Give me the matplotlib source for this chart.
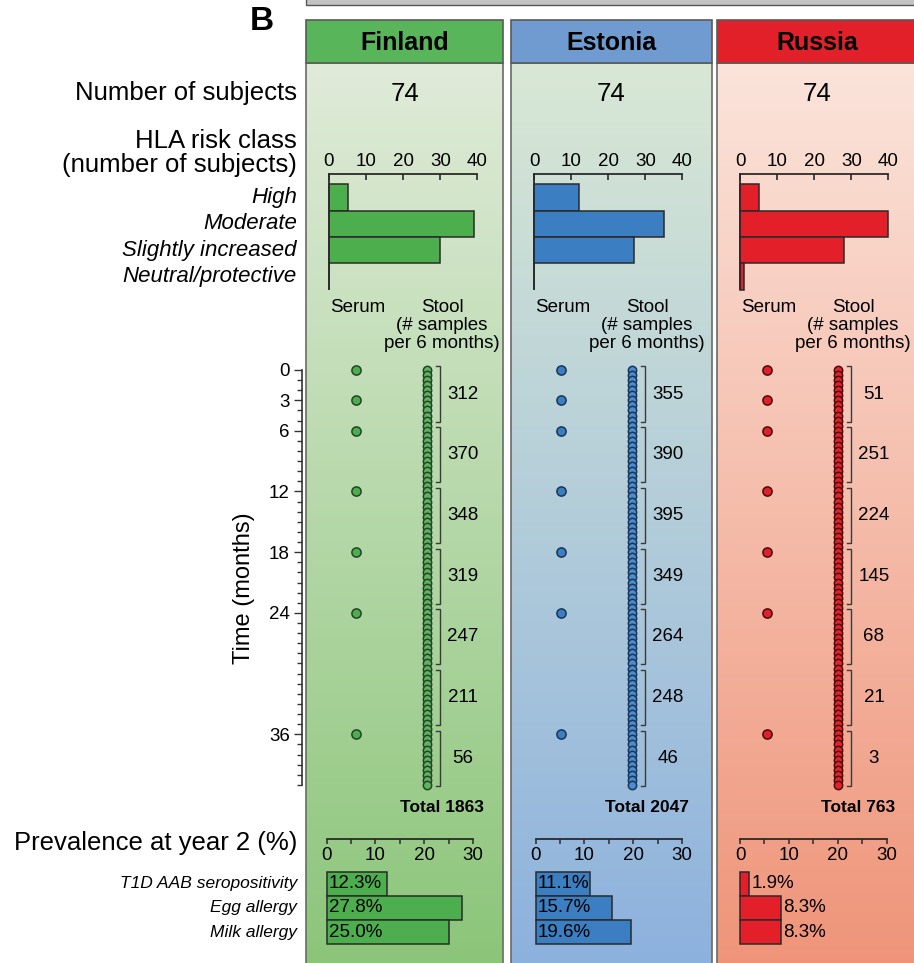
import numpy as np
import matplotlib
matplotlib.use("Agg")
import matplotlib.pyplot as plt
from matplotlib.patches import Rectangle
from matplotlib.colors import to_rgb
from matplotlib.transforms import blended_transform_factory
from matplotlib.ticker import FixedLocator

plt.rcParams['font.family'] = ['Liberation Sans', 'DejaVu Sans']

# ---------------- data ----------------
countries = ["Finland", "Estonia", "Russia"]
n_subjects = [74, 74, 74]

hla_classes = ["High", "Moderate", "Slightly increased", "Neutral/protective"]
hla_finland = [5, 39, 30, 0]
hla_estonia = [12, 35, 27, 0]
hla_russia = [5, 40, 28, 1]
hla_ticks = [0, 10, 20, 30, 40]

serum_months = [0, 3, 6, 12, 18, 24, 36]
stool_months = [0, 0.5, 1, 1.5, 2, 2.5, 3, 3.5, 4, 4.5, 5, 5.5,
                6, 6.5, 7, 7.5, 8, 8.5, 9, 9.5, 10, 10.5, 11, 11.5,
                12, 12.5, 13, 13.5, 14, 14.5, 15, 15.5, 16, 16.5, 17, 17.5,
                18, 18.5, 19, 19.5, 20, 20.5, 21, 21.5, 22, 22.5, 23, 23.5,
                24, 24.5, 25, 25.5, 26, 26.5, 27, 27.5, 28, 28.5, 29, 29.5,
                30, 30.5, 31, 31.5, 32, 32.5, 33, 33.5, 34, 34.5, 35, 35.5,
                36, 36.5, 37, 37.5, 38, 38.5, 39, 39.5, 40, 40.5, 41]
time_ticks = [0, 3, 6, 12, 18, 24, 36]
time_minor = list(range(0, 42))
window_start = [0, 6, 12, 18, 24, 30, 36]
window_end = [5.5, 11.5, 17.5, 23.5, 29.5, 35.5, 41]
stool_finland = [312, 370, 348, 319, 247, 211, 56]
stool_estonia = [355, 390, 395, 349, 264, 248, 46]
stool_russia = [51, 251, 224, 145, 68, 21, 3]

prev_labels = ["T1D AAB seropositivity", "Egg allergy", "Milk allergy"]
prev_finland = [12.3, 27.8, 25.0]
prev_estonia = [11.1, 15.7, 19.6]
prev_russia = [1.9, 8.3, 8.3]
prev_major = [0, 10, 20, 30]
prev_minor = [5, 15, 25]

hla_values = [hla_finland, hla_estonia, hla_russia]
stool_counts = [stool_finland, stool_estonia, stool_russia]
prev_values = [prev_finland, prev_estonia, prev_russia]

# ---------------- style ----------------
header_colors = ['#59b55a', '#6f9bd0', '#e2202a']
grad_top = ['#e0ebd9', '#d9e8d5', '#fbe4db']
grad_bot = ['#8bc579', '#8cb1de', '#ef9479']
bar_colors = ['#4cae4c', '#3b7ec1', '#e3202a']
dot_fill = ['#5cb45c', '#4a8cd0', '#e0242c']
dot_edge = ['#26432a', '#1a3556', '#4a0c0e']
edge_dark = '#2a2a2a'

W, H = 914, 963
fig = plt.figure(figsize=(W / 100, H / 100), dpi=100)

bg = fig.add_axes([0, 0, 1, 1], zorder=-10)
bg.set_xlim(0, W)
bg.set_ylim(H, 0)
bg.axis('off')


def px_axes(x0, y0, x1, y1):
    ax = fig.add_axes([x0 / W, 1 - y1 / H, (x1 - x0) / W, (y1 - y0) / H])
    ax.patch.set_alpha(0)
    return ax


panel_x = [(306, 503), (511, 712), (717, 918)]
header_top, header_bot, panel_bot = 20, 63, 970

# strip of the figure above
bg.add_patch(Rectangle((306, -6), 612, 11, fc='#c3c3c3', ec='#555555', lw=1.0))
bg.text(262, 21, "B", fontsize=24, fontweight='bold', ha='center', va='center')

# panels: gradient body and coloured header
for i, (x0, x1) in enumerate(panel_x):
    t = np.linspace(0, 1, 256)[:, None, None]
    grad = (1 - t) * np.array(to_rgb(grad_top[i])) + t * np.array(to_rgb(grad_bot[i]))
    bg.imshow(grad, extent=(x0, x1, panel_bot, header_bot), origin='upper',
              aspect='auto', interpolation='bilinear', zorder=0)
    bg.add_patch(Rectangle((x0, header_bot), x1 - x0, panel_bot - header_bot,
                           fc='none', ec='#6a6a6a', lw=1.2, zorder=2))
    bg.add_patch(Rectangle((x0, header_top), x1 - x0, header_bot - header_top,
                           fc=header_colors[i], ec='#5a5a5a', lw=1.2, zorder=2))
    bg.text((x0 + x1) / 2, (header_top + header_bot) / 2 + 1, countries[i],
            fontsize=18, fontweight='bold', ha='center', va='center', zorder=3)
    bg.text((x0 + x1) / 2, 94, str(n_subjects[i]), fontsize=18.5,
            ha='center', va='center', zorder=3)

bg.set_xlim(0, W)
bg.set_ylim(H, 0)

label_x = 297
bg.text(label_x, 93, "Number of subjects", fontsize=18.5, ha='right', va='center')
bg.text(label_x, 141, "HLA risk class", fontsize=18.5, ha='right', va='center')
bg.text(label_x, 165, "(number of subjects)", fontsize=18.5, ha='right', va='center')
bg.text(label_x, 843, "Prevalence at year 2 (%)", fontsize=18.5, ha='right', va='center')
bg.text(244, 588, "Time (months)", fontsize=17, rotation=90, ha='center', va='center')

# ---------------- HLA risk class bars ----------------
hla_top, hla_bottom = 174.5, 289
hla_c0, hla_step = 197.5, 26.3
for i, (x0, x1) in enumerate(panel_x):
    ax = px_axes(x0 + 23, hla_top, x0 + 23 + 148.4, hla_bottom)
    ax.barh(range(len(hla_classes)), hla_values[i], height=1.0,
            color=bar_colors[i], edgecolor=edge_dark, linewidth=1.1, clip_on=False)
    ax.set_xlim(0, 40)
    ax.set_ylim((hla_bottom - hla_c0) / hla_step, (hla_top - hla_c0) / hla_step)
    for s in ['right', 'bottom']:
        ax.spines[s].set_visible(False)
    for s in ['top', 'left']:
        ax.spines[s].set_linewidth(1.3)
        ax.spines[s].set_color('#2a2a2a')
    ax.xaxis.set_ticks_position('top')
    ax.set_xticks(hla_ticks)
    ax.tick_params(axis='x', direction='in', length=4.5, width=1.2, pad=3,
                   labelsize=13.5, colors='#2a2a2a', labelcolor='black')
    ax.set_yticks([])
    if i == 0:
        tr = blended_transform_factory(bg.transData, ax.transData)
        for k, name in enumerate(hla_classes):
            ax.text(label_x, k, name, transform=tr, fontsize=16, style='italic',
                    ha='right', va='center')

# ---------------- sampling timeline ----------------
t_top, t_bottom = 355, 795
m0_px, px_per_month = 370, 10.12
col_unit = 70.0
for i, (x0, x1) in enumerate(panel_x):
    serum_px = x0 + 50
    ax_l = x0 - 4.3
    ax = px_axes(ax_l, t_top, x1, t_bottom)
    ax.set_xlim((ax_l - serum_px) / col_unit, (x1 - serum_px) / col_unit)
    ax.set_ylim((t_bottom - m0_px) / px_per_month, (t_top - m0_px) / px_per_month)

    ax.scatter([0] * len(serum_months), serum_months, s=44, color=bar_colors[i],
               edgecolors=dot_edge[i], linewidths=1.1, zorder=3, clip_on=False)
    ax.scatter([1.02] * len(stool_months), stool_months, s=36, color=dot_fill[i],
               edgecolors=dot_edge[i], linewidths=1.1, zorder=3, clip_on=False)

    bx = 1 + 14 / col_unit
    stub = 4 / col_unit
    for ws, we, n in zip(window_start, window_end, stool_counts[i]):
        ys, ye = ws - 0.35, we - 0.4 if we < 41 else we + 0.1
        ax.plot([bx - stub, bx, bx, bx - stub], [ys, ys, ye, ye], color='#3a3a3a',
                lw=1.0, solid_joinstyle='miter', clip_on=False)
        ax.text(bx + 23 / col_unit, (ys + ye) / 2, str(n), fontsize=13.5,
                ha='center', va='center')

    tr = blended_transform_factory(ax.transData, bg.transData)
    ax.text(0.02, 307.5, "Serum", transform=tr, fontsize=13.5, ha='center', va='center')
    sx = 1 + 16 / col_unit
    ax.text(sx, 307.5, "Stool", transform=tr, fontsize=13.5, ha='center', va='center')
    ax.text(sx, 326, "(# samples", transform=tr, fontsize=13.5, ha='center', va='center')
    ax.text(sx, 344, "per 6 months)", transform=tr, fontsize=13.5, ha='center', va='center')

    bg.text(x0 + 178, 808, f"Total {sum(stool_counts[i])}", fontsize=12.5,
            fontweight='bold', ha='right', va='center')

    for s in ['top', 'right', 'bottom']:
        ax.spines[s].set_visible(False)
    ax.set_xticks([])
    if i == 0:
        ax.spines['left'].set_bounds(0, 41)
        ax.spines['left'].set_linewidth(1.2)
        ax.spines['left'].set_color('#333333')
        ax.set_yticks(time_ticks)
        ax.yaxis.set_minor_locator(FixedLocator(time_minor))
        ax.tick_params(axis='y', which='major', length=6, width=1.0, pad=2.5,
                       labelsize=13.5, colors='#333333', labelcolor='black')
        ax.tick_params(axis='y', which='minor', length=3.5, width=1.0, colors='#333333')
    else:
        ax.spines['left'].set_visible(False)
        ax.set_yticks([])

# ---------------- prevalence at year 2 ----------------
prev_offsets = [20.5, 24.5, 23]
p_top, p_bottom = 830, 962
p_c0, p_step = 883.7, 24.15
for i, (x0, x1) in enumerate(panel_x):
    left = x0 + prev_offsets[i]
    ax = px_axes(left, p_top, left + 146.7, p_bottom)
    vals = prev_values[i]
    ax.barh(range(len(vals)), vals, height=1.0, color=bar_colors[i],
            edgecolor=edge_dark, linewidth=1.1, clip_on=False)
    ax.set_xlim(0, 30)
    ax.set_ylim((p_bottom - p_c0) / p_step, (p_top - p_c0) / p_step)
    for s in ['top', 'right', 'left']:
        ax.spines[s].set_visible(False)
    ax.spines['bottom'].set_position(('data', (839 - p_c0) / p_step))
    ax.spines['bottom'].set_linewidth(1.3)
    ax.spines['bottom'].set_color('#2a2a2a')
    ax.set_xticks(prev_major)
    ax.xaxis.set_minor_locator(FixedLocator(prev_minor))
    ax.tick_params(axis='x', which='both', direction='out', length=3.5, width=1.1,
                   colors='#2a2a2a')
    ax.tick_params(axis='x', which='major', pad=2.5, labelsize=13.5, labelcolor='black')
    ax.set_yticks([])
    for k, v in enumerate(vals):
        if v >= 10:
            ax.annotate(f"{v:.1f}%", (0, k), xytext=(1.5, 0), textcoords='offset points',
                        ha='left', va='center', fontsize=13.5)
        else:
            ax.annotate(f"{v:.1f}%", (v, k), xytext=(2, 0), textcoords='offset points',
                        ha='left', va='center', fontsize=13.5)
    if i == 0:
        tr = blended_transform_factory(bg.transData, ax.transData)
        for k, name in enumerate(prev_labels):
            ax.text(label_x, k, name, transform=tr, fontsize=12.5, style='italic',
                    ha='right', va='center')

fig.savefig("out.png", dpi=100)
